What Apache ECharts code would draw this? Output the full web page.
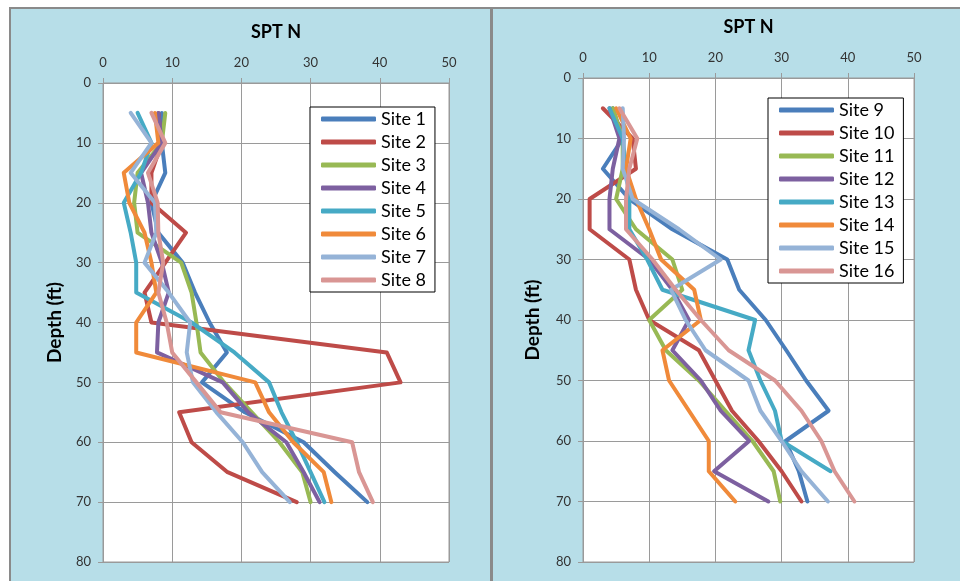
<!DOCTYPE html>
<html>
<head>
<meta charset="utf-8">
<script src="https://cdn.jsdelivr.net/npm/echarts@6/dist/echarts.min.js"></script>
<style>
  html, body { margin: 0; padding: 0; background: #fff; }
  #chart { width: 960px; height: 581px; }
</style>
</head>
<body>
<div id="chart"></div>
<script>
// depths (ft) where SPT N was read
const depths = [5, 10, 15, 20, 25, 30, 35, 40, 45, 50, 55, 60, 65, 70]

// left panel, sites 1-8
const site1 = [8.5, 8.5, 9, 7, 8, 11.5, 13.3, 15.4, 17.9, 14.3, 20.5, 29, 33.5, 38.2]
const site2 = [8, 8.5, 7, 7, 12, 9, 6, 7, 41, 43, 11, 12.8, 18, 28]
const site3 = [9, 8.5, 5, 4.5, 5, 11.3, 12.8, 13.5, 14.1, 17.5, 21.5, 25.5, 28.8, 30]
const site4 = [8, 8.5, 5.5, 6.5, 7, 8.5, 9.5, 8, 7.8, 17.3, 21, 26.5, 29, 31.3]
const site5 = [5, 7, 5.5, 3, 4, 4.8, 4.8, 12.8, 19, 24, 25.8, 28, 30, 32]
const site6 = [7.5, 8, 3, 3.8, 6, 7, 7.7, 4.8, 4.8, 22, 24, 27.5, 31.9, 33]
const site7 = [4, 7, 4, 7.5, 7.7, 6, 9.5, 12.6, 12.1, 13, 16.4, 20.2, 23, 27]
const site8 = [7, 9, 6.5, 7.9, 8, 8.7, 8, 9.2, 10, 13.5, 17, 36, 37, 39]

// right panel, sites 9-16
const site9 = [4.5, 6, 3, 7, 13.5, 21.8, 23.6, 27.6, 30.7, 33.7, 37.1, 30.6, 32.6, 33.9]
const site10 = [3, 7.5, 8, 1, 1, 7, 8, 10, 17.5, 20, 22.5, 26.5, 30, 33]
const site11 = [4.5, 6, 6, 5, 8, 13.5, 15, 10, 12.5, 17.5, 21.5, 25.6, 28.8, 29.8]
const site12 = [4, 5.5, 4.5, 4, 4, 10, 13.5, 16, 13.5, 17.8, 20.8, 25.1, 19.8, 28]
const site13 = [4, 6, 6.5, 7, 7, 9.7, 12, 26, 25, 26.8, 29, 30, 37.4]
const site14 = [5, 7.2, 6.5, 8, 10, 11.8, 16.8, 17.8, 12, 13, 16, 19, 19, 23]
const site15 = [6, 6.2, 6, 7.5, 14.5, 20.8, 13.3, 15.5, 18.5, 25, 26.8, 30, 33, 37]
const site16 = [5.5, 8.2, 7, 6.5, 6.5, 10.5, 14, 17.8, 22, 29, 33, 36, 38, 41]

const xTicks = [0, 10, 20, 30, 40, 50]
const yTicks = [0, 10, 20, 30, 40, 50, 60, 70, 80]

const leftSites = [site1, site2, site3, site4, site5, site6, site7, site8]
const rightSites = [site9, site10, site11, site12, site13, site14, site15, site16]
const colors = ['#4A7EBB', '#BE4B48', '#98B954', '#7D60A0', '#46AAC5', '#F08A3A', '#95B3D7', '#D99694']

const font = 'Lato, "Open Sans", sans-serif'
const gridColor = '#9a9a9a'

const xAxisOf = (gridIndex) => ({
  gridIndex,
  type: 'value',
  position: 'top',
  min: xTicks[0],
  max: xTicks[xTicks.length - 1],
  interval: 10,
  name: 'SPT N',
  nameLocation: 'middle',
  nameGap: 42,
  nameTextStyle: { color: '#000', fontSize: 18, fontWeight: 'bold', fontFamily: font },
  axisLine: { show: true, lineStyle: { color: gridColor } },
  axisTick: { show: true, length: 5, lineStyle: { color: gridColor } },
  axisLabel: { color: '#333', fontSize: 13, margin: 14, fontFamily: font },
  splitLine: { show: true, lineStyle: { color: gridColor, width: 1 } }
})

const yAxisOf = (gridIndex, gap) => ({
  gridIndex,
  type: 'value',
  inverse: true,
  min: yTicks[0],
  max: yTicks[yTicks.length - 1],
  interval: 10,
  name: 'Depth (ft)',
  nameLocation: 'middle',
  nameRotate: 90,
  nameGap: gap,
  nameTextStyle: { color: '#000', fontSize: 19, fontWeight: 'bold', fontFamily: font },
  axisLine: { show: true, lineStyle: { color: gridColor } },
  axisTick: { show: true, length: 5, lineStyle: { color: gridColor } },
  axisLabel: { color: '#333', fontSize: 13, margin: 12, fontFamily: font },
  splitLine: { show: true, lineStyle: { color: gridColor, width: 1 } }
})

const makeSeries = (sites, offset, gridIndex) => sites.map((vals, i) => ({
  name: 'Site ' + (offset + i + 1),
  type: 'line',
  xAxisIndex: gridIndex,
  yAxisIndex: gridIndex,
  showSymbol: false,
  symbol: 'none',
  data: vals.map((v, k) => [v, depths[k]]),
  lineStyle: { width: 4, color: colors[i], cap: 'round', join: 'round' },
  itemStyle: { color: colors[i] },
  emphasis: { disabled: true }
}))

const legendOf = (left, top, names) => ({
  orient: 'vertical',
  left,
  top,
  data: names,
  icon: 'roundRect',
  itemWidth: 55,
  itemHeight: 5,
  itemGap: 5,
  padding: [3, 9, 3, 11],
  backgroundColor: '#fff',
  borderColor: '#000',
  borderWidth: 1,
  selectedMode: false,
  textStyle: { color: '#000', fontSize: 18, lineHeight: 18, fontFamily: font }
})

const chart = echarts.init(document.getElementById('chart'))
chart.setOption({
  animation: false,
  backgroundColor: '#B7DEE8',
  graphic: [
    { type: 'rect', shape: { x: 0, y: 0, width: 960, height: 8 }, style: { fill: '#fff' } },
    { type: 'rect', shape: { x: 0, y: 0, width: 9, height: 581 }, style: { fill: '#fff' } },
    { type: 'rect', shape: { x: 9, y: 7, width: 960, height: 2 }, style: { fill: '#8a8a8a' } },
    { type: 'rect', shape: { x: 9, y: 7, width: 2, height: 581 }, style: { fill: '#8a8a8a' } },
    { type: 'rect', shape: { x: 490, y: 7, width: 3, height: 581 }, style: { fill: '#8a8a8a' } }
  ],
  grid: [
    { left: 103, top: 83, width: 346, height: 479, show: true, backgroundColor: '#fff', borderColor: gridColor, borderWidth: 1 },
    { left: 583, top: 78, width: 331, height: 484, show: true, backgroundColor: '#fff', borderColor: gridColor, borderWidth: 1 }
  ],
  xAxis: [xAxisOf(0), xAxisOf(1)],
  yAxis: [yAxisOf(0, 39), yAxisOf(1, 41)],
  legend: [
    legendOf(310, 107, leftSites.map((s, i) => 'Site ' + (i + 1))),
    legendOf(768, 98, rightSites.map((s, i) => 'Site ' + (i + 9)))
  ],
  series: [...makeSeries(leftSites, 0, 0), ...makeSeries(rightSites, 8, 1)]
})
</script>
</body>
</html>
